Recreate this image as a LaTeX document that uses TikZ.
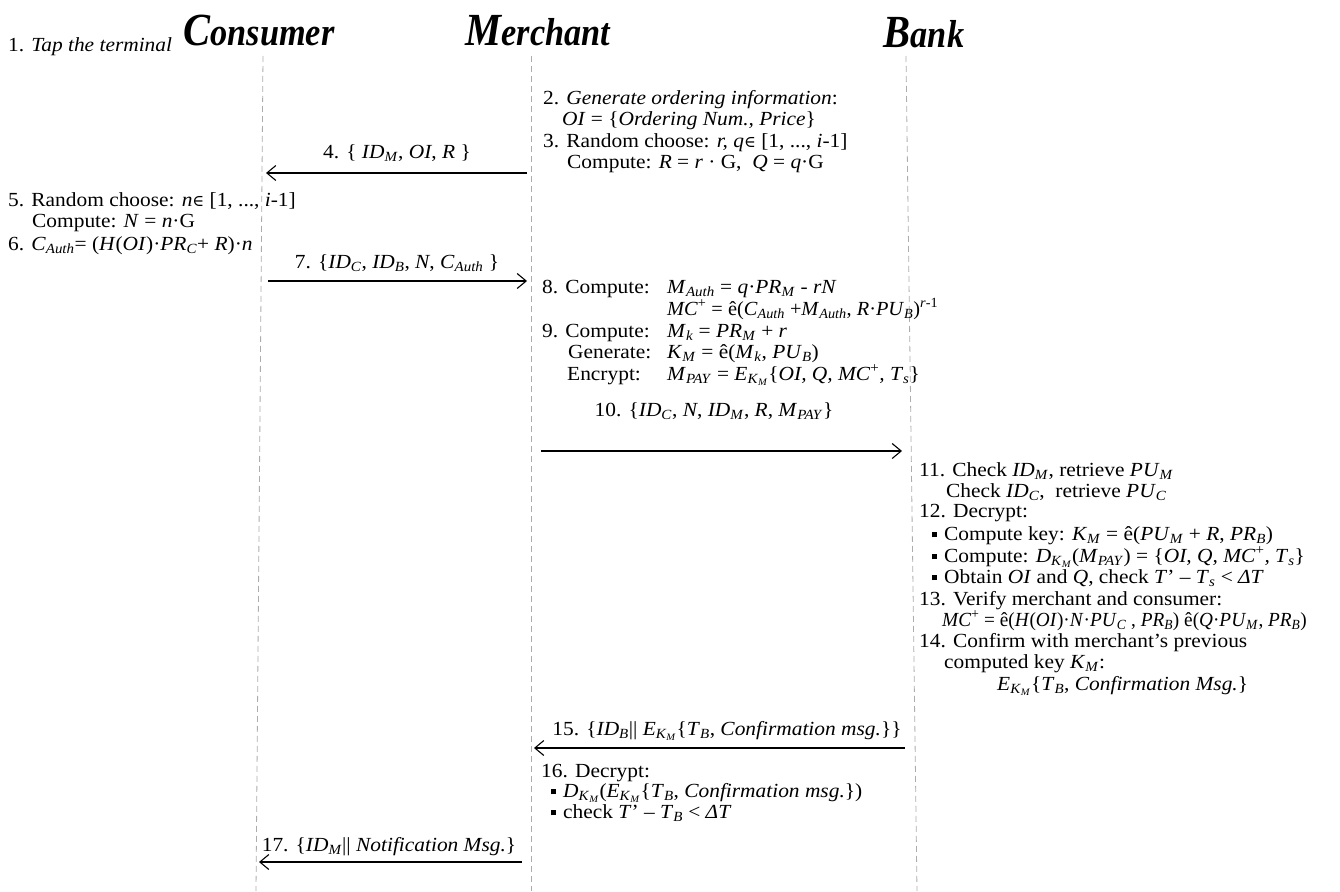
\documentclass[tikz,border=0pt]{standalone}
\usepackage{fontspec}
\usepackage{graphicx}
\setmainfont[FakeStretch=1.07]{Liberation Serif}
\newfontfamily\hdrf[FakeStretch=0.88]{Liberation Serif}
\newfontfamily\symf{DejaVu Serif}
\usetikzlibrary{arrows.meta}
\newcommand\It[1]{\textit{#1}}
\newcommand\sbs[1]{\textsubscript{\textit{#1}}}
\newcommand\sps[1]{\textsuperscript{#1}}
\newcommand\EK{\It{E}\textsubscript{\It{K}\textsubscript{\It{M}}}}
\newcommand\DK{\It{D}\textsubscript{\It{K}\textsubscript{\It{M}}}}
\newcommand\inn{{\symf\fontsize{16}{16}\selectfont ∈}}
\newcommand\bul{\raisebox{0.3ex}{\rule{5pt}{5pt}}\hspace{7pt}}
\newcommand\hd[2]{\hdrf\bfseries\itshape{\fontsize{46}{46}\selectfont #1}{\fontsize{39}{39}\selectfont #2}}
\begin{document}
\begin{tikzpicture}[x=1pt,y=-1pt,
  txt/.style={anchor=base west, inner sep=0pt, font=\fontsize{20}{21}\selectfont},
  lbl/.style={anchor=base, inner sep=0pt, font=\fontsize{20}{21}\selectfont},
  hdr/.style={anchor=base, inner sep=0pt},
  life/.style={draw=gray!65, dash pattern=on 6pt off 4pt, line width=0.8pt},
  msg/.style={-{Straight Barb[length=9pt,width=15pt]}, line width=1.1pt}]
\useasboundingbox (0,0) rectangle (1340,891);
% lifelines
\coordinate (cT) at (263,56); \coordinate (cB) at (256,891);
\coordinate (mT) at (531,56); \coordinate (mB) at (531,891);
\coordinate (bT) at (906,56); \coordinate (bB) at (917,891);
\draw[life] (cT) -- (cB);
\draw[life] (mT) -- (mB);
\draw[life] (bT) -- (bB);
% headers
\node[hdr] (hC) at (259,46) {\hd{C}{onsumer}};
\node[hdr] (hM) at (538,46) {\hd{M}{erchant}};
\node[hdr] (hB) at (924,48) {\hd{B}{ank}};
% consumer side
\node[txt] (t1) at (8,52) {1. \It{Tap the terminal}};
\node[txt] (t5a) at (8,206) {5. Random choose: \It{n}\inn{} [1, ..., \It{i}-1]};
\node[txt] (t5b) at (32,227) {Compute: \It{N} = \It{n}·G};
\node[txt] (t6) at (8,250) {6. \It{C}\sbs{Auth}= (\It{H}(\It{OI})·\It{PR}\sbs{C}+ \It{R})·\It{n}};
% merchant side
\node[txt] (t2a) at (543,104) {2. \It{Generate ordering information}:};
\node[txt] (t2b) at (562,125) {\It{OI} = \{\It{Ordering Num., Price}\}};
\node[txt] (t3a) at (543,147) {3. Random choose: \It{r, q}\inn{} [1, ..., \It{i}-1]};
\node[txt] (t3b) at (567,168) {Compute: \It{R} = \It{r} · G, \ \It{Q} = \It{q}·G};
\node[txt] (t8a) at (542,293) {\makebox[125pt][l]{8. Compute:}\It{M}\sbs{Auth} = \It{q}·\It{PR}\sbs{M} - \It{rN}};
\node[txt] (t8b) at (667,315) {\scalebox{0.95}[1]{\It{MC}\sps{+} = ê(\It{C}\sbs{Auth} +\It{M}\sbs{Auth}, \It{R}·\It{PU}\sbs{B})\sps{\It{r}-1}}};
\node[txt] (t9a) at (542,337) {\makebox[125pt][l]{9. Compute:}\It{M}\sbs{k} = \It{PR}\sbs{M} + \It{r}};
\node[txt] (t9b) at (568,358) {\makebox[99pt][l]{Generate:}\It{K}\sbs{M} = ê(\It{M}\sbs{k}, \It{PU}\sbs{B})};
\node[txt] (t9c) at (567,380) {\makebox[100pt][l]{Encrypt:}\It{M}\sbs{PAY} = \EK\{\It{OI, Q, MC}\sps{+}\It{, T}\sbs{s}\}};
\node[txt] (t16a) at (541,777) {16. Decrypt:};
\node[txt] (t16b) at (551,797) {\bul\DK(\EK\{\It{T}\sbs{B}, \It{Confirmation msg.}\})};
\node[txt] (t16c) at (551,818) {\bul check \It{T}’ – \It{T}\sbs{B} < \It{ΔT}};
% bank side
\node[txt] (t11a) at (919,476) {11. Check \It{ID}\sbs{M}, retrieve \It{PU}\sbs{M}};
\node[txt] (t11b) at (946,497) {Check \It{ID}\sbs{C}, \ retrieve \It{PU}\sbs{C}};
\node[txt] (t12) at (919,517) {12. Decrypt:};
\node[txt] (t12a) at (932,540) {\bul Compute key: \It{K}\sbs{M} = ê(\It{PU}\sbs{M} + \It{R}, \It{PR}\sbs{B})};
\node[txt] (t12b) at (932,562) {\bul Compute: \DK(\It{M}\sbs{PAY}) = \{\It{OI, Q, MC}\sps{+}\It{, T}\sbs{s}\}};
\node[txt] (t12c) at (932,583) {\bul Obtain \It{OI} and \It{Q}, check \It{T}’ – \It{T}\sbs{s} < \It{ΔT}};
\node[txt] (t13a) at (919,605) {13. Verify merchant and consumer:};
\node[txt] (t13b) at (942,626) {\scalebox{0.9}[1]{\It{MC}\sps{+} = ê(\It{H}(\It{OI})·\It{N}·\It{PU}\sbs{C} , \It{PR}\sbs{B}) ê(\It{Q}·\It{PU}\sbs{M}, \It{PR}\sbs{B})}};
\node[txt] (t14a) at (919,647) {14. Confirm with merchant’s previous};
\node[txt] (t14b) at (944,668) {computed key \It{K}\sbs{M}:};
\node[txt] (t14c) at (997,690) {\EK\{\It{T}\sbs{B}, \It{Confirmation Msg.}\}};
% message labels
\node[lbl] (m4) at (397,158) {4. \{ \It{ID}\sbs{M}, \It{OI}, \It{R} \}};
\node[lbl] (m7) at (397,268) {7. \{\It{ID}\sbs{C}, \It{ID}\sbs{B}, \It{N}, \It{C}\sbs{Auth} \}};
\node[lbl] (m10) at (714,416) {10. \{\It{ID}\sbs{C}, \It{N}, \It{ID}\sbs{M}, \It{R}, \It{M}\sbs{PAY}\}};
\node[lbl] (m15) at (727,735) {15. \{\It{ID}\sbs{B}|| \EK\{\It{T}\sbs{B}, \It{Confirmation msg.}\}\}};
\node[lbl] (m17) at (389,851) {17. \{\It{ID}\sbs{M}|| \It{Notification Msg.}\}};
% arrow ends
\coordinate (a4s) at (527,173); \coordinate (a4e) at (266,173);
\coordinate (a7s) at (268,281); \coordinate (a7e) at (527,281);
\coordinate (a10s) at (541,451); \coordinate (a10e) at (902,451);
\coordinate (a15s) at (905,748); \coordinate (a15e) at (534,748);
\coordinate (a17s) at (522,862); \coordinate (a17e) at (259,862);
\draw[msg] (a4s) -- (a4e);
\draw[msg] (a7s) -- (a7e);
\draw[msg] (a10s) -- (a10e);
\draw[msg] (a15s) -- (a15e);
\draw[msg] (a17s) -- (a17e);
\end{tikzpicture}
\end{document}
